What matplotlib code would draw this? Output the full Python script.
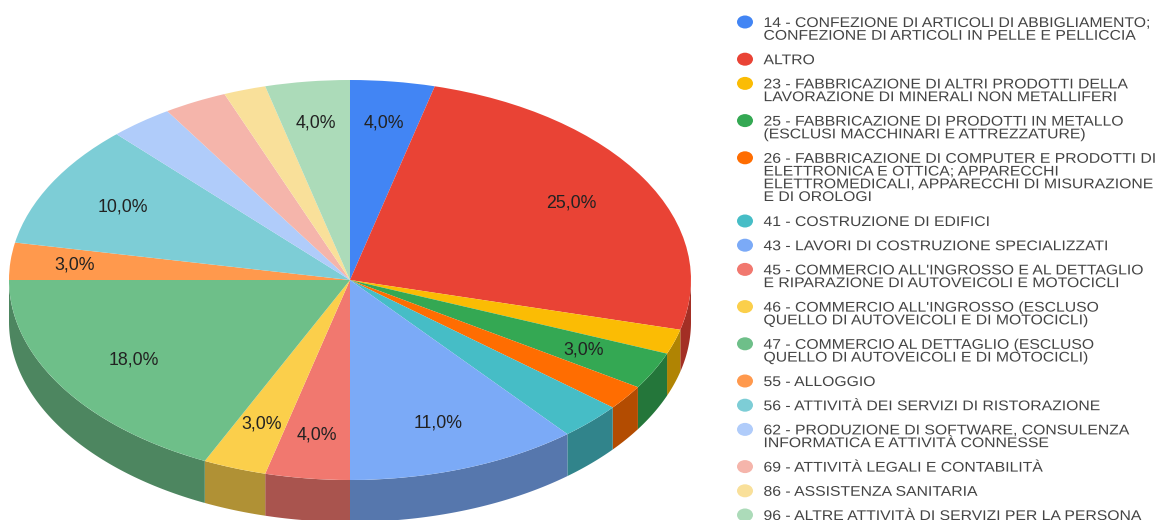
import numpy as np
import matplotlib
matplotlib.use("Agg")
import matplotlib.pyplot as plt
import matplotlib.patheffects as pe
from matplotlib.colors import to_rgb
from matplotlib.patches import Ellipse
from matplotlib.transforms import Affine2D

categories = [
    "14 - CONFEZIONE DI ARTICOLI DI ABBIGLIAMENTO;\nCONFEZIONE DI ARTICOLI IN PELLE E PELLICCIA",
    "ALTRO",
    "23 - FABBRICAZIONE DI ALTRI PRODOTTI DELLA\nLAVORAZIONE DI MINERALI NON METALLIFERI",
    "25 - FABBRICAZIONE DI PRODOTTI IN METALLO\n(ESCLUSI MACCHINARI E ATTREZZATURE)",
    "26 - FABBRICAZIONE DI COMPUTER E PRODOTTI DI\nELETTRONICA E OTTICA; APPARECCHI\nELETTROMEDICALI, APPARECCHI DI MISURAZIONE\nE DI OROLOGI",
    "41 - COSTRUZIONE DI EDIFICI",
    "43 - LAVORI DI COSTRUZIONE SPECIALIZZATI",
    "45 - COMMERCIO ALL'INGROSSO E AL DETTAGLIO\nE RIPARAZIONE DI AUTOVEICOLI E MOTOCICLI",
    "46 - COMMERCIO ALL'INGROSSO (ESCLUSO\nQUELLO DI AUTOVEICOLI E DI MOTOCICLI)",
    "47 - COMMERCIO AL DETTAGLIO (ESCLUSO\nQUELLO DI AUTOVEICOLI E DI MOTOCICLI)",
    "55 - ALLOGGIO",
    "56 - ATTIVITÀ DEI SERVIZI DI RISTORAZIONE",
    "62 - PRODUZIONE DI SOFTWARE, CONSULENZA\nINFORMATICA E ATTIVITÀ CONNESSE",
    "69 - ATTIVITÀ LEGALI E CONTABILITÀ",
    "86 - ASSISTENZA SANITARIA",
    "96 - ALTRE ATTIVITÀ DI SERVIZI PER LA PERSONA",
]
values = [4, 25, 2, 3, 2, 3, 11, 4, 3, 18, 3, 10, 3, 3, 2, 4]
slice_labels = ["4,0%", "25,0%", "", "3,0%", "", "", "11,0%", "4,0%", "3,0%",
                "18,0%", "3,0%", "10,0%", "", "", "", "4,0%"]
colors = ["#4285F4", "#E94335", "#FBBC04", "#34A853", "#FF6D01", "#46BDC6",
          "#7BAAF7", "#F1786F", "#FBCF4B", "#6EBF89", "#FF994D", "#7DCDD6",
          "#B0CCFA", "#F5B5AB", "#F9E09A", "#ACDBB9"]

W, H = 1158, 520
CX, CY, RX, RY, DEPTH = 350, 280, 341, 200, 42
FONT = "Liberation Sans"
LEGEND_X = 763.5
label_radius = [.79, .755, .76, .77, .76, .76, .76, .78, .765, .75, .81, .76, .76, .76, .76, .79]


class WidenText(pe.AbstractPathEffect):
    """Stretch a text horizontally about a fixed display x (reference text is widened)."""

    def __init__(self, x0, factor):
        super().__init__()
        self.x0, self.factor = x0, factor

    def draw_path(self, renderer, gc, tpath, affine, rgbFace=None):
        stretch = Affine2D().translate(-self.x0, 0).scale(self.factor, 1).translate(self.x0, 0)
        renderer.draw_path(gc, tpath, affine + stretch, rgbFace)


fig = plt.figure(figsize=(W / 100, H / 100), dpi=100)
ax = fig.add_axes([0, 0, 1, 1])

label_iter = iter(slice_labels)
wedges, _, autotexts = ax.pie(
    values, colors=colors, startangle=90, counterclock=False,
    autopct=lambda p: next(label_iter), pctdistance=0.76,
    wedgeprops=dict(linewidth=0, zorder=3),
    textprops=dict(fontsize=12.8, family=FONT, color="#222222"),
    radius=1,
)
ax.set_aspect("auto")
ax.set_xlim(-CX / RX, (W - CX) / RX)
ax.set_ylim((CY - H) / RY, CY / RY)

edges = np.cumsum([0] + values) / sum(values) * 2 * np.pi
for t, a0, a1, r in zip(autotexts, edges[:-1], edges[1:], label_radius):
    mid = (a0 + a1) / 2
    t.set_position((r * np.sin(mid), r * np.cos(mid)))
    t.set_zorder(5)

# Extruded rim: front half of each slice, derived from the slice values
d = DEPTH / RY
for a0, a1, c in zip(edges[:-1], edges[1:], colors):
    lo, hi = max(a0, np.pi / 2), min(a1, 3 * np.pi / 2)
    if hi <= lo:
        continue
    th = np.linspace(lo, hi, 80)
    x, y = np.sin(th), np.cos(th)
    side = tuple(v * 0.7 for v in to_rgb(c))
    ax.fill(np.r_[x, x[::-1]], np.r_[y, y[::-1] - d], color=side, lw=0, zorder=2)

# Legend in pixel coordinates
lax = fig.add_axes([0, 0, 1, 1], facecolor="none")
lax.set_xlim(0, W)
lax.set_ylim(H, 0)
lax.axis("off")
y = 22.0
for label, c in zip(categories, colors):
    n = label.count("\n") + 1
    lax.add_patch(Ellipse((745, y), 16, 13, color=c, lw=0))
    lax.text(LEGEND_X, y - 6.0, label, va="top", ha="left", family=FONT, fontsize=10.1,
             color="#444444", linespacing=0.885,
             path_effects=[WidenText(LEGEND_X, 1.122)])
    y += 13 * (n - 1) + 24.2

fig.savefig("out.png", dpi=100)
